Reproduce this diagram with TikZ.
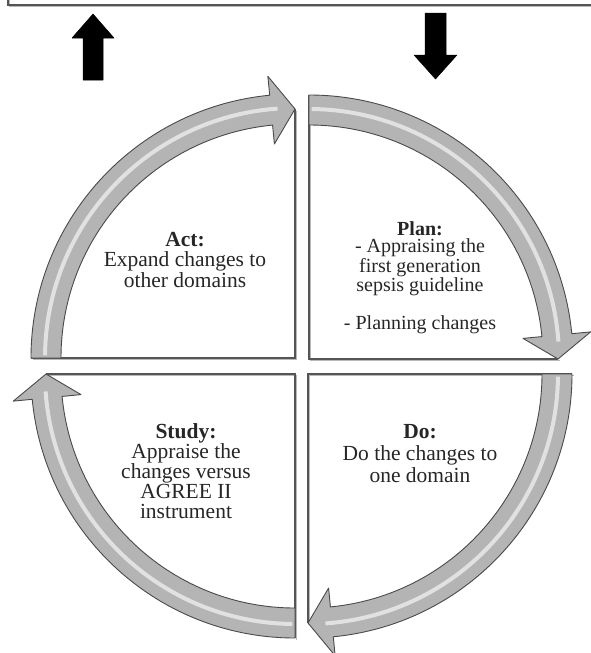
\documentclass[tikz,border=0pt]{standalone}
\usepackage{fontspec}
\setmainfont{Liberation Serif}
\definecolor{arrfill}{HTML}{B4B4B4}
\definecolor{arrline}{HTML}{4A4A4A}
\definecolor{edgeline}{HTML}{555555}
\definecolor{edgeshadow}{HTML}{B8B8B8}
\definecolor{txt}{HTML}{262626}
\tikzset{
  arrowbody/.style={fill=arrfill, draw=arrline, line width=0.9pt, line join=round},
  stripe/.style={draw=white!60!arrfill, line width=4pt},
  edge/.style={draw=edgeline, line width=1.2pt},
  edgeshade/.style={draw=edgeshadow, line width=1.6pt},
  label/.style={inner sep=0pt, align=center, text=txt, anchor=base},
  blackarrow/.style={fill=black, draw=black, line width=0.5pt, line join=round}
}
\newcommand{\cycarrow}[3]{%
  \begin{scope}[shift={(#1,#2)}]
    \pgfmathsetmacro\aS{#3}%
    \pgfmathsetmacro\aE{#3+90}%
    \pgfmathsetmacro\aB{#3+84.5}%
    \pgfmathsetmacro\aT{#3+0.6}%
    \pgfmathsetmacro\aU{#3+86}%
    \filldraw[arrowbody] (\aS:264) arc[start angle=\aS, end angle=\aB, radius=264]
      -- (\aB:283) -- (\aE:249) -- (\aB:215) -- (\aB:234)
      arc[start angle=\aB, end angle=\aS, radius=234] -- cycle;
    \draw[stripe] (\aT:250) arc[start angle=\aT, end angle=\aU, radius=250];
  \end{scope}}
\begin{document}
\begin{tikzpicture}[x=1pt, y=-1pt]
\useasboundingbox (0,0) rectangle (591,653);
% top box
\draw[edgeshade] (9.5,-2) -- (9.5,6.5) -- (592,6.5);
\draw[edge] (8,-2) -- (8,5) -- (592,5);
% black arrows
\filldraw[blackarrow] (83,80) -- (83,38) -- (72,38) -- (93,14) -- (114,38) -- (103,38) -- (103,80) -- cycle;
\filldraw[blackarrow] (425,13) -- (446,13) -- (446,55) -- (457,55) -- (435.5,79) -- (414,55) -- (425,55) -- cycle;
% quadrant edges (shadows)
\begin{scope}[shift={(1.5,1.5)}]
\draw[edgeshade] (295,109) -- (295,358) -- (31,358);
\draw[edgeshade] (309,95) -- (309,359) -- (558,359);
\draw[edgeshade] (572,374) -- (308,374) -- (308,623);
\draw[edgeshade] (295,638) -- (295,374) -- (46,374);
\end{scope}
\draw[edge] (295,109) -- (295,358) -- (31,358);
\draw[edge] (309,95) -- (309,359) -- (558,359);
\draw[edge] (572,374) -- (308,374) -- (308,623);
\draw[edge] (295,638) -- (295,374) -- (46,374);
% cycle arrows
\cycarrow{295}{358}{180}
\cycarrow{309}{359}{-90}
\cycarrow{308}{374}{0}
\cycarrow{295}{374}{90}
% texts (anchor base = baseline of last line)
\node[label, font=\fontsize{21.5}{20.5}\selectfont] (act) at (185,287)
  {\textbf{Act:}\\Expand changes to\\other domains};
\node[label, font=\fontsize{20}{17.5}\selectfont] (plan) at (420,329)
  {\textbf{Plan:}\\- Appraising the\\first generation\\sepsis guideline\\[18.5pt]- Planning changes};
\node[label, font=\fontsize{21.5}{22}\selectfont] (do) at (420,482)
  {\textbf{Do:}\\Do the changes to\\one domain};
\node[label, font=\fontsize{21.5}{20}\selectfont] (study) at (186,518)
  {\textbf{Study:}\\Appraise the\\changes versus\\AGREE II\\instrument};
\end{tikzpicture}
\end{document}
